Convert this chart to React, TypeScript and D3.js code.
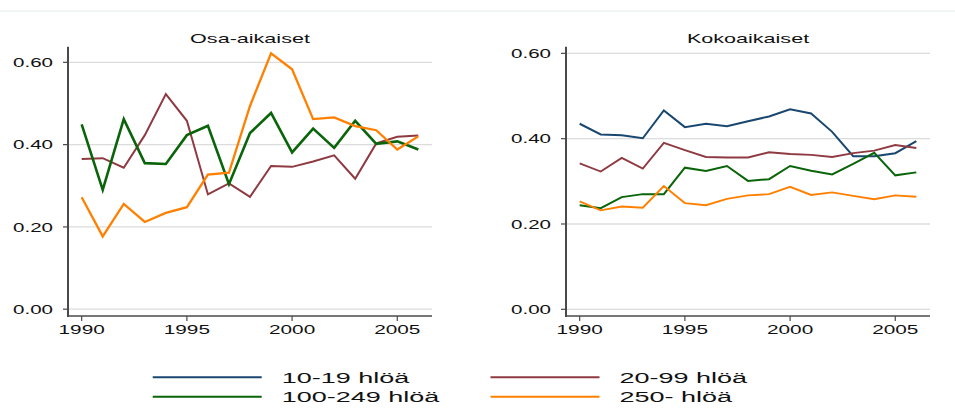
import React from "react";
import * as d3 from "d3";

const years = [1990, 1991, 1992, 1993, 1994, 1995, 1996, 1997, 1998, 1999, 2000, 2001, 2002, 2003, 2004, 2005, 2006];

// Osa-aikaiset (part-time)
const osa_20_99 = [0.365, 0.367, 0.344, 0.423, 0.523, 0.458, 0.279, 0.306, 0.273, 0.348, 0.346, 0.359, 0.374, 0.317, 0.403, 0.419, 0.422];
const osa_100_249 = [0.449, 0.29, 0.462, 0.355, 0.353, 0.423, 0.446, 0.304, 0.428, 0.477, 0.381, 0.439, 0.392, 0.458, 0.402, 0.408, 0.388];
const osa_250 = [0.272, 0.177, 0.256, 0.212, 0.234, 0.248, 0.327, 0.332, 0.494, 0.622, 0.583, 0.462, 0.466, 0.445, 0.435, 0.388, 0.42];

// Kokoaikaiset (full-time)
const koko_10_19 = [0.435, 0.41, 0.408, 0.401, 0.466, 0.427, 0.435, 0.429, 0.441, 0.452, 0.469, 0.459, 0.416, 0.359, 0.359, 0.366, 0.394];
const koko_20_99 = [0.342, 0.323, 0.355, 0.33, 0.39, 0.373, 0.357, 0.356, 0.356, 0.368, 0.364, 0.362, 0.357, 0.366, 0.372, 0.385, 0.378];
const koko_100_249 = [0.244, 0.237, 0.263, 0.27, 0.27, 0.332, 0.324, 0.336, 0.301, 0.305, 0.336, 0.325, 0.316, 0.341, 0.367, 0.314, 0.321];
const koko_250 = [0.253, 0.232, 0.241, 0.238, 0.289, 0.249, 0.244, 0.259, 0.267, 0.27, 0.287, 0.268, 0.274, 0.266, 0.258, 0.267, 0.264];

const yTicks = [0, 0.2, 0.4, 0.6];
const xTicks = [1990, 1995, 2000, 2005];
const panelTitles = ["Osa-aikaiset", "Kokoaikaiset"];
const legendLabels = ["10-19 hlöä", "20-99 hlöä", "100-249 hlöä", "250- hlöä"];

const COLORS = { navy: "#1a476f", maroon: "#8f3a42", green: "#0a640a", orange: "#ff8000" };
const FONT = "'Liberation Sans', Arial, sans-serif";

type Series = { values: number[]; color: string; width: number };

function Text({ x, y, sx, size, anchor, children }: any) {
  return (
    <text
      transform={`translate(${x},${y}) scale(${sx},1)`}
      fontFamily={FONT}
      fontSize={size}
      textAnchor={anchor}
      fill="#111"
    >
      {children}
    </text>
  );
}

function Panel({ x0, x1, yDom, title, series }: { x0: number; x1: number; yDom: [number, number]; title: string; series: Series[] }) {
  const xScale = d3.scaleLinear().domain([1989.35, 2006.65]).range([x0, x1]);
  const yScale = d3.scaleLinear().domain(yDom).range([316, 46.7]);
  const line = (vals: number[]) =>
    d3.line<number>().x((_, i) => xScale(years[i])).y((v) => yScale(v))(vals) || "";
  return (
    <g>
      {yTicks.map((t) => (
        <line key={"g" + t} x1={x0} x2={x1} y1={yScale(t)} y2={yScale(t)} stroke="#dcdcdc" strokeWidth={1.3} />
      ))}
      {series.map((s, i) => (
        <path key={i} d={line(s.values)} fill="none" stroke={s.color} strokeWidth={s.width} strokeLinejoin="miter" />
      ))}
      <line x1={x0} x2={x0} y1={46.7} y2={317} stroke="#4a4a4a" strokeWidth={2} />
      <line x1={x0 - 1} x2={x1} y1={316} y2={316} stroke="#4a4a4a" strokeWidth={1.6} />
      {yTicks.map((t) => (
        <g key={"yt" + t}>
          <line x1={x0 - 5} x2={x0} y1={yScale(t)} y2={yScale(t)} stroke="#4a4a4a" strokeWidth={1.2} />
          <Text x={x0 - 15} y={yScale(t) + 4.6} sx={1.58} size={13} anchor="end">
            {t.toFixed(2)}
          </Text>
        </g>
      ))}
      {xTicks.map((t) => (
        <g key={"xt" + t}>
          <line x1={xScale(t)} x2={xScale(t)} y1={316} y2={321} stroke="#4a4a4a" strokeWidth={1.2} />
          <Text x={xScale(t)} y={333.5} sx={1.6} size={13} anchor="middle">
            {String(t)}
          </Text>
        </g>
      ))}
      <Text x={(x0 + x1) / 2} y={43} sx={1.66} size={13} anchor="middle">
        {title}
      </Text>
    </g>
  );
}

export default function App() {
  const legend = [
    { label: legendLabels[0], color: COLORS.navy, lx: 152.7, ly: 377.3 },
    { label: legendLabels[1], color: COLORS.maroon, lx: 490.5, ly: 377.3 },
    { label: legendLabels[2], color: COLORS.green, lx: 152.7, ly: 396.7 },
    { label: legendLabels[3], color: COLORS.orange, lx: 490.5, ly: 396.7 },
  ];
  return (
    <svg width={955} height={417} style={{ position: "absolute", left: 0, top: 0, background: "#fff" }}>
      <rect x={0} y={0} width={955} height={417} fill="#fff" />
      <line x1={0} x2={955} y1={11} y2={11} stroke="#e4ecec" strokeWidth={1} />
      <Panel
        x0={68}
        x1={432}
        yDom={[-0.0165, 0.638]}
        title={panelTitles[0]}
        series={[
          { values: osa_20_99, color: COLORS.maroon, width: 2 },
          { values: osa_100_249, color: COLORS.green, width: 2.6 },
          { values: osa_250, color: COLORS.orange, width: 2.3 },
        ]}
      />
      <Panel
        x0={566}
        x1={930}
        yDom={[-0.0157, 0.6156]}
        title={panelTitles[1]}
        series={[
          { values: koko_10_19, color: COLORS.navy, width: 2 },
          { values: koko_20_99, color: COLORS.maroon, width: 1.9 },
          { values: koko_100_249, color: COLORS.green, width: 2 },
          { values: koko_250, color: COLORS.orange, width: 1.9 },
        ]}
      />
      {legend.map((l) => (
        <g key={l.label}>
          <line x1={l.lx} x2={l.lx + 109} y1={l.ly} y2={l.ly} stroke={l.color} strokeWidth={2} />
          <Text x={l.lx + 129} y={l.ly + 5.4} sx={1.8} size={15} anchor="start">
            {l.label}
          </Text>
        </g>
      ))}
    </svg>
  );
}
